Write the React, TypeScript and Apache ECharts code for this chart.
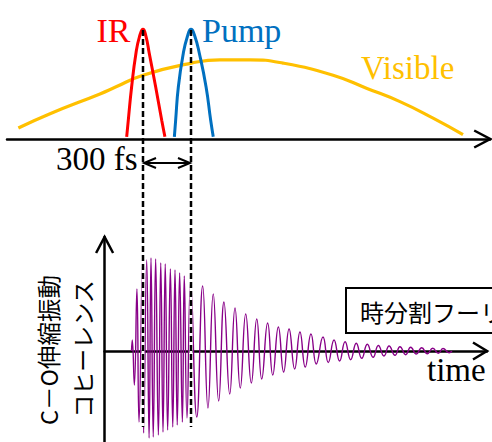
import React, { useEffect, useRef } from "react";
import * as echarts from "echarts";

// Time axis in fs (IR pulse peak at 0 fs, pump 300 fs later)
const irTime = [-102, -92, -71, -44, -22, 0, 19, 39, 79, 117, 137];
const irAmp = [0.02, 0.17, 0.475, 0.78, 0.93, 1, 0.93, 0.78, 0.475, 0.17, 0.02];

const pumpTime = [196, 204, 221, 252, 277, 300, 325, 352, 394, 423, 439];
const pumpAmp = [0.02, 0.17, 0.475, 0.78, 0.93, 1, 0.93, 0.78, 0.475, 0.17, 0.02];

const visTime = [-779, -581, -269, -175, 0, 304, 481, 669, 875, 1188, 1400, 1606, 1813, 2000];
const visAmp = [0.1, 0.23, 0.41, 0.47, 0.58, 0.69, 0.72, 0.72, 0.69, 0.58, 0.46, 0.34, 0.19, 0.04];

// Extrema of the C–O stretching coherence signal
const cohTime = [
  -72, -67, -54, -38, -25, -4, 4, 23, 38, 50, 64, 79, 96, 111, 125, 139, 154, 171, 186, 200,
  214, 229, 246, 258, 275, 298, 336, 373, 406, 439, 473, 506, 542, 575, 608, 642, 677, 711,
  742, 779, 811, 846, 879, 913, 948, 981, 1014, 1050, 1083, 1125, 1158, 1194, 1229, 1263,
  1298, 1333, 1367, 1402, 1438, 1471, 1506, 1538, 1575, 1606, 1642, 1673, 1708, 1742, 1777,
  1811, 1846, 1875, 1913, 1931,
];
const cohAmp = [
  0, 0.11, -0.34, 0.62, -0.71, 0.84, -0.82, 0.91, -0.87, 0.93, -0.86, 0.92, -0.84, 0.88,
  -0.81, 0.87, -0.79, 0.82, -0.76, 0.81, -0.74, 0.78, -0.71, 0.75, -0.67, 0.69, -0.66, 0.65,
  -0.57, 0.57, -0.5, 0.49, -0.43, 0.43, -0.37, 0.37, -0.32, 0.32, -0.28, 0.28, -0.24, 0.24,
  -0.21, 0.22, -0.18, 0.19, -0.16, 0.17, -0.13, 0.14, -0.115, 0.11, -0.1, 0.093, -0.087,
  0.077, -0.073, 0.067, -0.063, 0.055, -0.05, 0.05, -0.043, 0.043, -0.037, 0.037, -0.03,
  0.033, -0.027, 0.027, -0.023, 0.025, -0.017, 0,
];

const delayMarks = [0, 300];

const labels = {
  ir: "IR",
  pump: "Pump",
  visible: "Visible",
  delay: "300 fs",
  time: "time",
  box: "時分割フーリエ変換赤外分光法",
  yLine1: "C－O伸縮振動",
  yLine2: "コヒーレンス",
};

const pair = (t: number[], a: number[]) => t.map((v, i) => [v, a[i]]);

const SERIF = "'Liberation Serif', 'Times New Roman', serif";
const CJK = "'Noto Sans CJK JP', sans-serif";

export default function App() {
  const ref = useRef<HTMLDivElement>(null);
  useEffect(() => {
    document.body.style.margin = "0";
    const chart = echarts.init(ref.current!, null, { renderer: "svg" });
    const axisLine = { show: true, lineStyle: { color: "#000", width: 2.5 } };
    const hidden = { axisTick: { show: false }, axisLabel: { show: false }, splitLine: { show: false } };
    chart.setOption({
      animation: false,
      backgroundColor: "#fff",
      grid: [
        { left: 7, right: 1.8, top: 29, bottom: 303 },
        { left: 104.6, right: 5, top: 237, bottom: 0 },
      ],
      xAxis: [
        { type: "value", gridIndex: 0, min: -850, max: 2170, axisLine, ...hidden },
        { type: "value", gridIndex: 1, min: -240, max: 2150, axisLine, ...hidden },
      ],
      yAxis: [
        { type: "value", gridIndex: 0, min: 0, max: 1, show: false },
        {
          type: "value",
          gridIndex: 1,
          min: -0.91,
          max: 1.14,
          axisLine: { ...axisLine, onZero: false },
          ...hidden,
        },
      ],
      series: [
        {
          type: "line", xAxisIndex: 0, yAxisIndex: 0, data: pair(visTime, visAmp),
          smooth: 0.5, symbol: "none", lineStyle: { color: "#FFC000", width: 3.2 }, silent: true,
        },
        {
          type: "line", xAxisIndex: 0, yAxisIndex: 0, data: pair(irTime, irAmp),
          smooth: 0.5, symbol: "none", lineStyle: { color: "#FF0000", width: 3 }, silent: true,
        },
        {
          type: "line", xAxisIndex: 0, yAxisIndex: 0, data: pair(pumpTime, pumpAmp),
          smooth: 0.5, symbol: "none", lineStyle: { color: "#0070C0", width: 3 }, silent: true,
        },
        {
          type: "line", xAxisIndex: 1, yAxisIndex: 1, data: pair(cohTime, cohAmp),
          smooth: 0.5, symbol: "none", lineStyle: { color: "#880088", width: 1.4 }, silent: true,
        },
      ],
    });

    const px = (axis: number, v: number) => chart.convertToPixel({ xAxisIndex: axis }, v) as number;
    const py = (axis: number, v: number) => chart.convertToPixel({ yAxisIndex: axis }, v) as number;
    const d0 = px(0, delayMarks[0]);
    const d1 = px(0, delayMarks[1]);
    const topTip = px(0, 2170);
    const topY = py(0, 0);
    const peakY = py(0, 1);
    const botTip = px(1, 2150);
    const botY = py(1, 0);
    const vx = px(1, -240);
    const vTop = py(1, 1.14);
    const arrowY = 163;
    const dashBottom = 427;
    const black = { stroke: "#000", lineWidth: 2.5, fill: "none" };

    const text = (t: string, x: number, y: number, fill: string, size: number, family: string, align = "left", rotation = 0) => ({
      type: "text", x, y, rotation, z: 120,
      style: {
        text: t, fill, fontSize: size, fontFamily: family,
        align, textAlign: align, verticalAlign: "middle", textVerticalAlign: "middle",
      },
    });

    chart.setOption({
      graphic: [
        { type: "polyline", z: 100, shape: { points: [[topTip - 16, topY - 8.5], [topTip, topY], [topTip - 16, topY + 8.5]] }, style: black },
        { type: "polyline", z: 100, shape: { points: [[botTip - 14, botY - 8.5], [botTip, botY], [botTip - 14, botY + 8.5]] }, style: black },
        { type: "polyline", z: 100, shape: { points: [[vx - 8.5, vTop + 16], [vx, vTop], [vx + 8.5, vTop + 16]] }, style: black },
        // white gaps under dashed lines in lower panel
        ...[d0, d1].map((x) => ({
          type: "line", z: 101, shape: { x1: x, y1: 245, x2: x, y2: dashBottom },
          style: { stroke: "#fff", lineWidth: 3 },
        })),
        ...[d0, d1].map((x) => ({
          type: "line", z: 102, shape: { x1: x, y1: peakY + 1, x2: x, y2: dashBottom },
          style: { stroke: "#000", lineWidth: 2.5, lineDash: [6, 3] },
        })),
        { type: "line", z: 103, shape: { x1: d0 + 1, y1: arrowY, x2: d1 - 1, y2: arrowY }, style: { stroke: "#000", lineWidth: 2 } },
        { type: "polyline", z: 103, shape: { points: [[d0 + 13, arrowY - 5], [d0 + 1, arrowY], [d0 + 13, arrowY + 5]] }, style: { stroke: "#000", lineWidth: 2, fill: "none" } },
        { type: "polyline", z: 103, shape: { points: [[d1 - 13, arrowY - 5], [d1 - 1, arrowY], [d1 - 13, arrowY + 5]] }, style: { stroke: "#000", lineWidth: 2, fill: "none" } },
        { type: "rect", z: 110, shape: { x: 346, y: 288, width: 220, height: 45 }, style: { fill: "#fff", stroke: "#000", lineWidth: 2 } },
        text(labels.box, 360, 311, "#000", 24, CJK),
        text(labels.ir, 96.5, 30.8, "#FF0000", 34, SERIF),
        text(labels.pump, 202, 30.8, "#0070C0", 34, SERIF),
        text(labels.visible, 361, 67.9, "#FFC000", 33, SERIF),
        text(labels.delay, 56, 158.9, "#000", 33, SERIF),
        text(labels.time, 427, 369.9, "#000", 33, SERIF),
        text(labels.yLine1, 48, 350, "#000", 23.5, CJK, "center", Math.PI / 2),
        text(labels.yLine2, 82, 349, "#000", 23, CJK, "center", Math.PI / 2),
      ],
    });
    return () => chart.dispose();
  }, []);
  return <div ref={ref} style={{ width: 492, height: 442 }} />;
}
